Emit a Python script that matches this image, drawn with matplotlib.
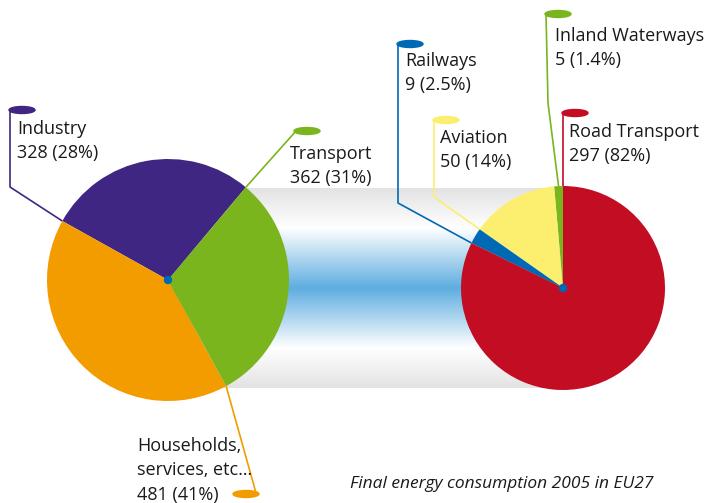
import numpy as np
import matplotlib.pyplot as plt
from matplotlib.patches import Ellipse
from matplotlib.colors import LinearSegmentedColormap

W, H = 707, 503

# data
sectors = ['Industry', 'Households,\nservices, etc\u2026', 'Transport']
sector_values = [328, 481, 362]
sector_pct = ['28%', '41%', '31%']
sector_colors = ['#3f2682', '#f39c00', '#7ab51d']

modes = ['Inland Waterways', 'Aviation', 'Railways', 'Road Transport']
mode_values = [5, 50, 9, 297]
mode_pct = ['1.4%', '14%', '2.5%', '82%']
mode_colors = ['#7ab51d', '#fcee6e', '#0069b4', '#c30d23']

title = 'Final energy consumption 2005 in EU27'

plt.rcParams['font.family'] = ['Open Sans', 'DejaVu Sans']
txt_color = '#1a1a1a'


def py(y):
    # pixel row -> data y
    return H - y


fig = plt.figure(figsize=(W / 100, H / 100), dpi=100)
ax = fig.add_axes([0, 0, 1, 1])

# centres / radii of the two pies
c1, r1 = (168, py(280)), 121
c2, r2 = (563, py(288)), 102

# gradient band joining the pies
cmap = LinearSegmentedColormap.from_list('band', [
    (0.0, '#e3e3e3'), (0.2, '#ffffff'), (0.5, '#5eade0'),
    (0.8, '#ffffff'), (1.0, '#e3e3e3')])
grad = np.linspace(0, 1, 256).reshape(-1, 1)
ax.imshow(grad, cmap=cmap, aspect='auto', zorder=0,
          extent=[c1[0], c2[0], py(388), py(188)])

w1, _ = ax.pie(sector_values, colors=sector_colors, startangle=50,
               center=c1, radius=r1, counterclock=True,
               wedgeprops=dict(linewidth=0, zorder=2))
w2, _ = ax.pie(mode_values, colors=mode_colors, startangle=90,
               center=c2, radius=r2, counterclock=True,
               wedgeprops=dict(linewidth=0, zorder=2))
for c in (c1, c2):
    ax.add_patch(plt.Circle(c, 3.5, color='#0069b4', zorder=4))


def edge(c, r, ang):
    a = np.deg2rad(ang)
    return c[0] + r * np.cos(a), c[1] + r * np.sin(a)


def leader(pts, color, cap):
    xs = [p[0] for p in pts]
    ys = [p[1] for p in pts]
    ax.plot(xs, ys, color=color, lw=1.2, zorder=5, solid_capstyle='butt')
    ax.add_patch(Ellipse(cap, 26, 7, color=color, zorder=5))


# left pie leaders
ind, hh, tr = w1
p = edge(c1, r1, ind.theta2)
leader([p, (10, py(187)), (10, py(110))], sector_colors[0], (22, py(110)))
p = edge(c1, r1, tr.theta2)
leader([p, (296, py(131))], sector_colors[2], (307, py(131)))
p = edge(c1, r1, hh.theta2)
leader([p, (256, py(493))], sector_colors[1], (246, py(494)))

# right pie leaders
iw, av, rw, rd = w2
p = edge(c2, r2, (iw.theta1 + iw.theta2) / 2)
leader([p, (548, py(103)), (546, py(14))], mode_colors[0], (558, py(14)))
p = edge(c2, r2, av.theta2)
leader([p, (434, py(197)), (434, py(120))], mode_colors[1], (446, py(120)))
p = edge(c2, r2, rw.theta2)
leader([p, (398, py(203)), (398, py(44))], mode_colors[2], (410, py(44)))
p = edge(c2, r2, rd.theta2)
leader([p, (563, py(113))], mode_colors[3], (575, py(113)))

fs = 13
labels = [
    (17, 120, f'{sectors[0]}\n{sector_values[0]} ({sector_pct[0]})'),
    (290, 145, f'{sectors[2]}\n{sector_values[2]} ({sector_pct[2]})'),
    (137, 437, f'{sectors[1]}\n{sector_values[1]} ({sector_pct[1]})'),
    (555, 27, f'{modes[0]}\n{mode_values[0]} ({mode_pct[0]})'),
    (440, 129, f'{modes[1]}\n{mode_values[1]} ({mode_pct[1]})'),
    (405, 52, f'{modes[2]}\n{mode_values[2]} ({mode_pct[2]})'),
    (569, 123, f'{modes[3]}\n{mode_values[3]} ({mode_pct[3]})'),
]
for x, y, s in labels:
    ax.text(x, py(y), s, fontsize=fs, color=txt_color, va='top', ha='left',
            linespacing=1.45, zorder=6)

ax.text(350, py(484), title, fontsize=12.5, style='italic', color=txt_color,
        va='center', ha='left')

ax.set_xlim(0, W)
ax.set_ylim(0, H)
ax.set_aspect('auto')
ax.axis('off')

plt.savefig('out.png', dpi=100)
